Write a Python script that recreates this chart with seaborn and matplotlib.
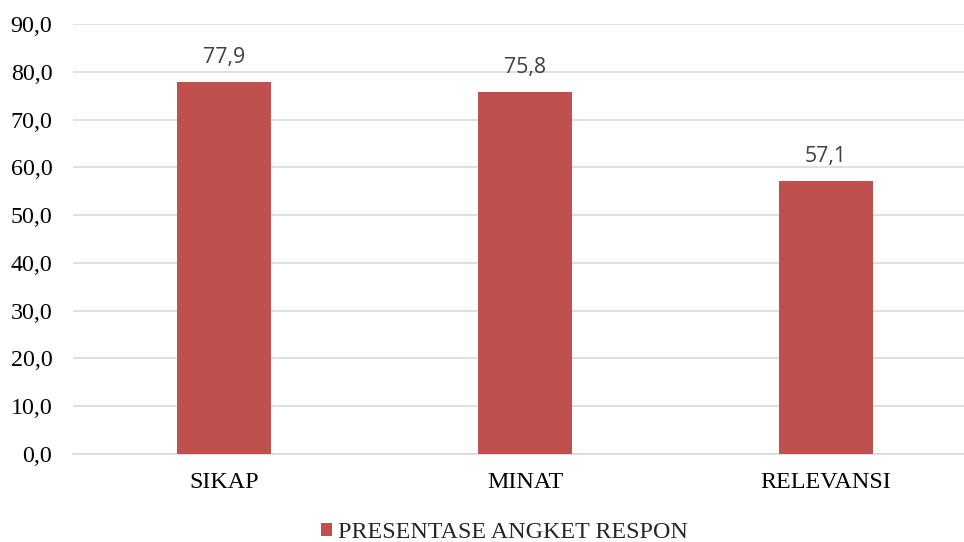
import matplotlib
matplotlib.use("Agg")
import matplotlib.pyplot as plt
import seaborn as sns
import pandas as pd
from matplotlib.patches import Patch

categories = ["SIKAP", "MINAT", "RELEVANSI"]
values = [77.9, 75.8, 57.1]
series_name = "PRESENTASE ANGKET RESPON"
yticks = [0, 10, 20, 30, 40, 50, 60, 70, 80, 90]

bar_color = "#C0504D"
grid_color = "#D9D9D9"
serif = ["Liberation Serif", "DejaVu Serif"]

sns.set_theme(style="white")
plt.rcParams["font.family"] = serif

df = pd.DataFrame({"cat": categories, "val": values})

fig = plt.figure(figsize=(9.64, 5.42), dpi=100)
ax = fig.add_axes([73.1 / 964, (542 - 454) / 542, 903.6 / 964, 430 / 542])

sns.barplot(data=df, x="cat", y="val", color=bar_color, saturation=1,
            width=0.312, ax=ax, zorder=3, edgecolor="none")

ax.set_xlim(-0.5, 2.5)
ax.set_ylim(0, 90)
ax.set_yticks(yticks)
ax.set_yticklabels([f"{v:.1f}".replace(".", ",") for v in yticks])
ax.set_xlabel("")
ax.set_ylabel("")
ax.grid(axis="y", color=grid_color, linewidth=1.2, zorder=0)
ax.grid(axis="x", visible=False)
for s in ["left", "right", "top"]:
    ax.spines[s].set_visible(False)
ax.spines["bottom"].set_color(grid_color)
ax.spines["bottom"].set_linewidth(1.2)
ax.tick_params(axis="y", length=0, pad=15, labelsize=17.3, labelcolor="#000000")
ax.tick_params(axis="x", length=0, pad=13, labelsize=17.3, labelcolor="#000000")

for i, v in enumerate(values):
    ax.annotate(f"{v:.1f}".replace(".", ","), xy=(i, v), xytext=(0, 10),
                textcoords="offset points", ha="center", va="bottom",
                fontsize=15.3, color="#404040",
                family=["Open Sans", "DejaVu Sans"])

handles = [Patch(facecolor=bar_color, edgecolor="none")]
fig.legend(handles, [series_name], loc="center",
           bbox_to_anchor=(504 / 964, 1 - 533 / 542), frameon=False,
           fontsize=17.3, handlelength=0.46, handleheight=0.46,
           handletextpad=0.25, borderpad=0)

fig.savefig("out.png", dpi=100)
